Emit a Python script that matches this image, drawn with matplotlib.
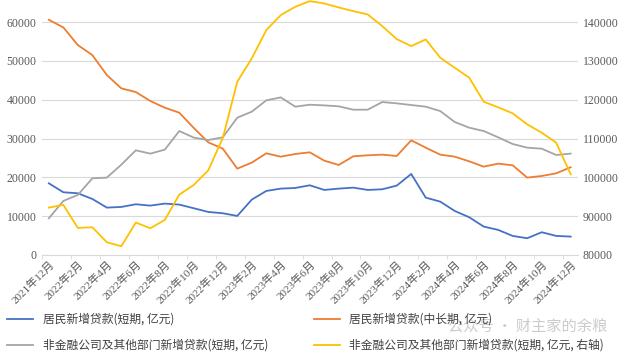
import matplotlib.pyplot as plt
import numpy as np

plt.rcParams["font.family"] = ["Liberation Serif", "Noto Sans CJK SC", "DejaVu Sans"]

months = [f"{y}年{m}月" for y, m in
          [(2021, 12)] + [(2022, m) for m in range(1, 13)] +
          [(2023, m) for m in range(1, 13)] + [(2024, m) for m in range(1, 13)]]

# 居民新增贷款(短期), 亿元
household_short = [18450, 16140, 15880, 14420, 12190, 12360, 13050, 12700, 13220, 12960,
                   12020, 11070, 10730, 10040, 14250, 16480, 17080, 17250, 17940, 16740,
                   17080, 17340, 16740, 16910, 17860, 20860, 14760, 13730, 11330, 9700,
                   7300, 6440, 4890, 4290, 5840, 4890, 4720]
# 居民新增贷款(中长期), 亿元
household_long = [60600, 58630, 54080, 51500, 46350, 42920, 41980, 39660, 37940, 36650,
                  32710, 29010, 27380, 22230, 23780, 26180, 25320, 26010, 26440, 24290,
                  23180, 25410, 25670, 25840, 25490, 29530, 27640, 25840, 25320, 24120,
                  22750, 23520, 23090, 19920, 20340, 21030, 22580]
# 非金融公司及其他部门新增贷款(短期), 亿元
corp_short = [9440, 13910, 15450, 19740, 19920, 23260, 26950, 26100, 27130, 31930,
              30220, 29610, 30300, 35370, 36910, 39830, 40600, 38200, 38710, 38540,
              38290, 37430, 37430, 39400, 39060, 38630, 38200, 37080, 34250, 32790,
              31930, 30300, 28580, 27640, 27380, 25750, 26100]
# 非金融公司及其他部门新增贷款(短期), 亿元, 右轴
corp_right = [92190, 92880, 86950, 87120, 83260, 82230, 88330, 86870, 89010, 95540,
              98030, 101800, 110130, 124640, 130650, 137940, 141800, 143950, 145410, 144800,
              143780, 142830, 141980, 138970, 135620, 133820, 135540, 130820, 128240, 125670,
              119490, 118030, 116480, 113650, 111500, 108930, 100770]

labels = ["居民新增贷款(短期, 亿元)", "居民新增贷款(中长期, 亿元)",
          "非金融公司及其他部门新增贷款(短期, 亿元)", "非金融公司及其他部门新增贷款(短期, 亿元, 右轴)"]
colors = ["#4472C4", "#ED7D31", "#A5A5A5", "#FFC000"]

x = np.arange(len(months))
fig = plt.figure(figsize=(6.4, 3.59), dpi=100)
ax = fig.add_axes([0.065, 0.29, 0.838, 0.71])
ax2 = ax.twinx()

h1, = ax.plot(x, household_short, color=colors[0], lw=1.3)
h2, = ax.plot(x, household_long, color=colors[1], lw=1.3)
h3, = ax.plot(x, corp_short, color=colors[2], lw=1.3)
h4, = ax2.plot(x, corp_right, color=colors[3], lw=1.3, clip_on=False)

ax.set_xlim(-0.5, len(months) - 0.5)
ax.set_ylim(0, 65700)
ax2.set_ylim(80000, 145700)
ax.set_yticks(range(0, 60001, 10000))
ax2.set_yticks(range(80000, 140001, 10000))
ax.grid(axis="y", color="#D9D9D9", lw=0.8)
ax.set_axisbelow(True)

ax.set_xticks(x[::2])
ax.set_xticklabels(months[::2], rotation=45, ha="right", rotation_mode="anchor",
                   fontsize=8, color="#595959", family=["Liberation Serif", "Noto Sans CJK SC"])
ax.tick_params(axis="x", length=0, pad=3)
ax.set_xticks(np.arange(-0.5, len(months), 2), minor=True)
ax.tick_params(axis="x", which="minor", length=3, color="#D9D9D9")
ax.tick_params(axis="y", length=0, labelsize=8.5, labelcolor="#595959")
ax2.tick_params(axis="y", length=0, labelsize=8.5, labelcolor="#595959")

for a in (ax, ax2):
    for s in a.spines.values():
        s.set_visible(False)
ax.spines["bottom"].set_visible(True)
ax.spines["bottom"].set_color("#D9D9D9")

# legend is filled column by column, so order handles to give rows: blue/orange, gray/yellow
fig.legend([h1, h3, h2, h4], [labels[0], labels[2], labels[1], labels[3]],
           loc="lower left", bbox_to_anchor=(0.0, 0.0, 0.955, 0.17),
           ncol=2, mode="expand", frameon=False, handlelength=2.2,
           prop={"family": ["Noto Sans CJK SC", "DejaVu Sans"], "size": 8.5},
           labelcolor="#404040", columnspacing=1.0, borderaxespad=0.2, labelspacing=1.1)

fig.text(0.70, 0.08, "公众号 · 财主家的余粮", fontsize=11, color="#BFBFBF",
         family=["Noto Sans CJK SC", "DejaVu Sans"], alpha=0.8, zorder=0)

fig.savefig("out.png", dpi=100)
